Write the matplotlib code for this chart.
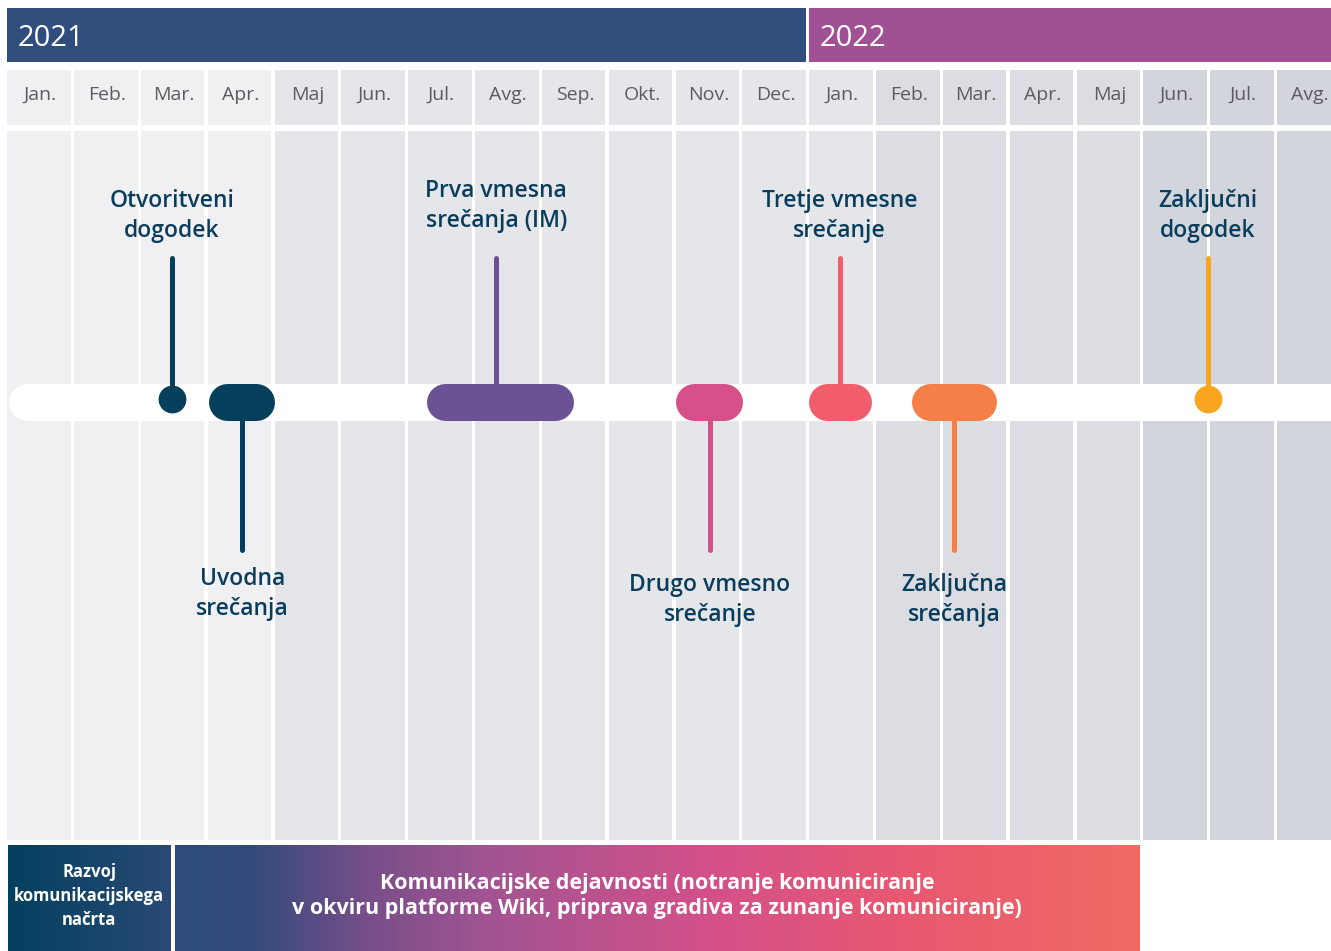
import numpy as np
import matplotlib.pyplot as plt
from matplotlib.colors import LinearSegmentedColormap

# timeline data (x in months from Jan 2021)
months = ["Jan.", "Feb.", "Mar.", "Apr.", "Maj", "Jun.", "Jul.", "Avg.", "Sep.", "Okt.", "Nov.", "Dec.",
          "Jan.", "Feb.", "Mar.", "Apr.", "Maj", "Jun.", "Jul.", "Avg."]
col_colors = ["#f0f0f2"] * 4 + ["#e5e6ea"] * 9 + ["#dcdde2"] * 4 + ["#d2d5dc"] * 3
years = ["2021", "2022"]
year_start = [0, 12]
year_end = [12, 20]
year_colors = ["#314d7c", "#a05193"]

ev_labels = ["Otvoritveni\ndogodek", "Uvodna\nsrečanja", "Prva vmesna\nsrečanja (IM)",
             "Drugo vmesno\nsrečanje", "Tretje vmesne\nsrečanje", "Zaključna\nsrečanja",
             "Zaključni\ndogodek"]
ev_start = [2.47, 3.01, 6.28, 10.01, 12.00, 13.53, 17.97]
ev_end = [2.47, 4.01, 8.47, 11.00, 12.94, 14.81, 17.97]
ev_stem = [2.47, 3.52, 7.32, 10.52, 12.46, 14.17, 17.97]
ev_side = ["up", "down", "up", "down", "up", "down", "up"]
ev_colors = ["#063f5c", "#063f5c", "#6a5294", "#d65089", "#f15d6d", "#f47f47", "#f9a51f"]

act_labels = ["Razvoj\nkomunikacijskega\nnačrta",
              "Komunikacijske dejavnosti (notranje komuniciranje\n"
              "v okviru platforme Wiki, priprava gradiva za zunanje komuniciranje)"]
act_start = [0.015, 2.51]
act_end = [2.44, 16.94]

PX = 66.83  # pixels per month
X0 = 7
txt_col = "#0a3d5c"
FONT = ["Open Sans", "DejaVu Sans"]

fig = plt.figure(figsize=(13.31, 9.51), dpi=100)
ax = fig.add_axes([0, 0, 1, 1])
ax.set_xlim(-X0 / PX, (1331 - X0) / PX)
ax.set_ylim(951, 0)
ax.axis("off")

idx = np.arange(len(months))
# body columns + month cells
ax.bar(idx + 0.005, 709, width=0.95, bottom=131, align="edge", color=col_colors, zorder=1)
ax.bar(idx + 0.005, 55, width=0.95, bottom=70, align="edge", color=col_colors, zorder=1)
for i, m in enumerate(months):
    ax.text(i + 0.5, 95, m, ha="center", va="center", fontsize=14, color="#5c5c60",
            family=FONT, zorder=3)

# year headers
for y, s, e, c in zip(years, year_start, year_end, year_colors):
    w = e - s - 0.04 if e < 20 else e - s + 0.5
    ax.bar(s + 0.0, 54, width=w, bottom=8, align="edge", color=c, zorder=2)
    ax.text(s + 0.16, 38, y, ha="left", va="center", fontsize=21, color="white",
            family=FONT, zorder=3)

# white timeline band
r = 18.5 / PX
ax.plot([(8 - X0) / PX + r, 21], [402, 402], color="white", lw=37 * 0.72,
        solid_capstyle="round", zorder=2)

# events
for lab, s, e, st, side, c in zip(ev_labels, ev_start, ev_end, ev_stem, ev_side, ev_colors):
    if side == "up":
        ax.plot([st, st], [258, 400], color=c, lw=3.6, solid_capstyle="round", zorder=3)
        ty = 206 if "Prva" in lab else 216
    else:
        ax.plot([st, st], [400, 550], color=c, lw=3.6, solid_capstyle="round", zorder=3)
        ty = 594 if "Uvodna" in lab else 600
    if s == e:
        ax.plot(s, 399, "o", ms=20, color=c, mec="none", zorder=4)
    else:
        ax.plot([s + r, e - r], [402, 402], color=c, lw=37 * 0.72,
                solid_capstyle="round", zorder=4)
    ax.text(st, ty, lab, ha="center", va="center", fontsize=16.5, color=txt_col,
            family=FONT, fontweight="semibold", linespacing=1.38, zorder=5)

# activity bars with gradients
cm1 = LinearSegmentedColormap.from_list("a", ["#03405e", "#2a4a75"])
cm2 = LinearSegmentedColormap.from_list("b", [(0, "#2d4c7e"), (0.08, "#344b7c"),
                                              (0.2, "#784f89"), (0.32, "#a15493"),
                                              (0.55, "#d35089"), (0.75, "#e85872"),
                                              (1, "#f06a62")])
grad = np.linspace(0, 1, 256).reshape(1, -1)
for (lab, s, e, cm, fs, ls) in zip(act_labels, act_start, act_end, [cm1, cm2],
                                    [12, 15.5], [1.4, 1.25]):
    ax.imshow(grad, cmap=cm, aspect="auto", extent=[s, e, 951, 845], zorder=2)
    ax.text((s + e) / 2, 896, lab, ha="center", va="center", fontsize=fs, color="white",
            fontweight="bold", family=FONT, linespacing=ls, zorder=3)

ax.set_xlim(-X0 / PX, (1331 - X0) / PX)
ax.set_ylim(951, 0)
fig.savefig("out.png", dpi=100)
